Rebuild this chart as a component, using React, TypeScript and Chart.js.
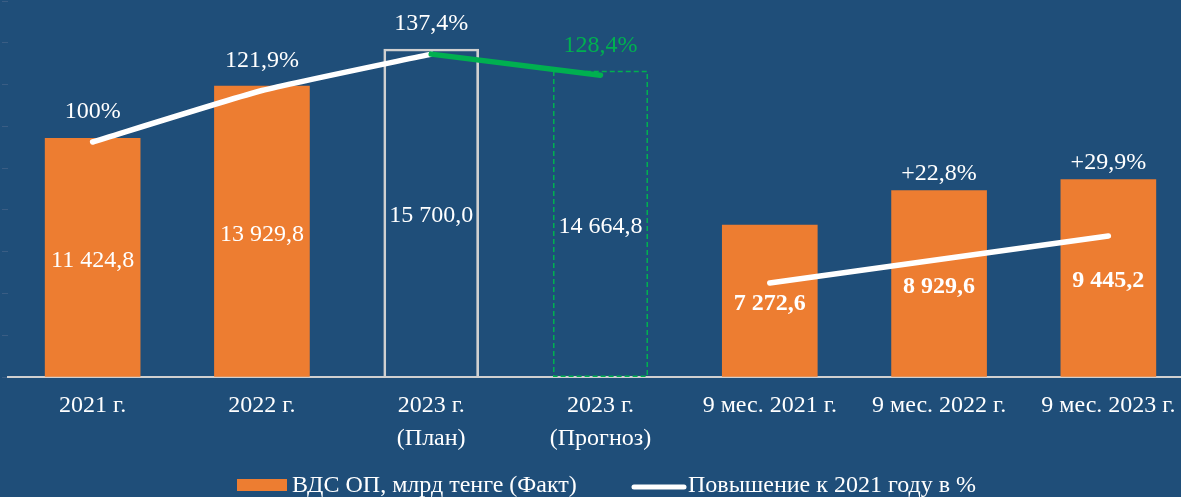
import { useEffect, useRef } from "react";
import { Chart, registerables } from "chart.js";

Chart.register(...registerables);

// ---- data ----
const categories: string[][] = [
  ["2021 г."],
  ["2022 г."],
  ["2023 г.", "(План)"],
  ["2023 г.", "(Прогноз)"],
  ["9 мес. 2021 г."],
  ["9 мес. 2022 г."],
  ["9 мес. 2023 г."],
];
const factValues = [11424.8, 13929.8, null, null, 7272.6, 8929.6, 9445.2];
const planValues = [null, null, 15700.0, null, null, null, null];
const forecastValues = [null, null, null, 14664.8, null, null, null];
const growthYearly = [100, 121.9, 137.4, null, null, null, null];
const growthForecast = [null, null, 137.4, 128.4, null, null, null];
const growthNineMonths = [null, null, null, null, 40, 50, 60];
const nineMonthGrowthLabels = [null, null, null, null, null, "+22,8%", "+29,9%"];
const boldValueIndexes = [4, 5, 6];

const legendBarLabel = "ВДС ОП, млрд тенге (Факт)";
const legendLineLabel = "Повышение к 2021 году в %";

const Y_MIN = 0;
const Y_MAX = 18000;
const Y_STEP = 2000;
const Y2_MIN = 0;
const Y2_MAX = 160;

// ---- styles ----
const BG = "#1F4E79";
const ORANGE = "#ED7D31";
const GREEN = "#00B050";
const WHITE = "#FFFFFF";
const PLAN_BORDER = "#D0D0D0";
const FONT = "'Liberation Serif', 'Times New Roman', serif";
const FONT_SIZE = 24;

// dataset indexes
const DS_FACT = 3;
const DS_PLAN = 4;
const DS_FORECAST = 5;

function fmtValue(v: number): string {
  const [ip, dp] = v.toFixed(1).split(".");
  const withSpaces = ip.replace(/\B(?=(\d{3})+(?!\d))/g, " ");
  return withSpaces + "," + dp;
}
function fmtPct(v: number): string {
  if (Number.isInteger(v)) return v + "%";
  return v.toFixed(1).replace(".", ",") + "%";
}

const bgPlugin = {
  id: "bgFill",
  beforeDraw(chart: any) {
    const { ctx, width, height } = chart;
    ctx.save();
    ctx.fillStyle = BG;
    ctx.fillRect(0, 0, width, height);
    ctx.restore();
  },
};

const labelsPlugin = {
  id: "customLabels",
  afterDatasetsDraw(chart: any) {
    const ctx = chart.ctx;
    ctx.save();
    ctx.textAlign = "center";
    ctx.textBaseline = "middle";

    // dashed forecast bar outline
    const fMeta = chart.getDatasetMeta(DS_FORECAST);
    fMeta.data.forEach((el: any, i: number) => {
      if (forecastValues[i] == null) return;
      const { x, y, base, width } = el.getProps(["x", "y", "base", "width"], true);
      ctx.save();
      ctx.strokeStyle = GREEN;
      ctx.lineWidth = 1.5;
      ctx.setLineDash([5, 3]);
      ctx.strokeRect(x - width / 2 + 0.75, y + 0.75, width - 1.5, base - y - 1);
      ctx.restore();
    });

    // bar value labels
    [DS_FACT, DS_PLAN, DS_FORECAST].forEach((di) => {
      const meta = chart.getDatasetMeta(di);
      const data = chart.data.datasets[di].data;
      meta.data.forEach((el: any, i: number) => {
        const v = data[i];
        if (v == null) return;
        const { x, y, base } = el.getProps(["x", "y", "base"], true);
        const bold = boldValueIndexes.includes(i);
        ctx.font = `${bold ? "bold " : ""}${FONT_SIZE}px ${FONT}`;
        ctx.fillStyle = WHITE;
        ctx.fillText(fmtValue(v), x, (y + base) / 2 + 3);
      });
    });

    // growth labels above the yearly line
    ctx.font = `${FONT_SIZE}px ${FONT}`;
    const yMeta = chart.getDatasetMeta(1);
    yMeta.data.forEach((el: any, i: number) => {
      const v = growthYearly[i];
      if (v == null) return;
      ctx.fillStyle = WHITE;
      ctx.fillText(fmtPct(v), el.x, el.y - 30);
    });
    const gMeta = chart.getDatasetMeta(0);
    gMeta.data.forEach((el: any, i: number) => {
      const v = growthForecast[i];
      if (v == null || growthYearly[i] != null) return;
      ctx.fillStyle = GREEN;
      ctx.fillText(fmtPct(v), el.x, el.y - 30);
    });

    // 9-month growth labels above the bars
    const bMeta = chart.getDatasetMeta(DS_FACT);
    bMeta.data.forEach((el: any, i: number) => {
      const t = nineMonthGrowthLabels[i];
      if (!t) return;
      const { x, y } = el.getProps(["x", "y"], true);
      ctx.fillStyle = WHITE;
      ctx.fillText(t, x, y - 17);
    });

    ctx.restore();
  },
  afterDraw(chart: any) {
    // legend
    const ctx = chart.ctx;
    ctx.save();
    ctx.font = `${FONT_SIZE}px ${FONT}`;
    ctx.textBaseline = "middle";
    ctx.textAlign = "left";
    ctx.fillStyle = ORANGE;
    ctx.fillRect(237, 479, 50, 12);
    ctx.fillStyle = WHITE;
    ctx.fillText(legendBarLabel, 292, 486);
    ctx.strokeStyle = WHITE;
    ctx.lineWidth = 5;
    ctx.lineCap = "round";
    ctx.beginPath();
    ctx.moveTo(634, 487);
    ctx.lineTo(684, 487);
    ctx.stroke();
    ctx.fillText(legendLineLabel, 688, 486);
    ctx.restore();
  },
};

export default function App() {
  const ref = useRef<HTMLCanvasElement | null>(null);

  useEffect(() => {
    if (!ref.current) return;
    const chart = new Chart(ref.current, {
      type: "bar",
      data: {
        labels: categories,
        datasets: [
          {
            type: "line",
            label: "Прогноз",
            data: growthForecast,
            yAxisID: "y2",
            borderColor: GREEN,
            borderWidth: 5.5,
            borderCapStyle: "round",
            pointRadius: 0,
            pointHoverRadius: 0,
            spanGaps: false,
            order: 0,
          } as any,
          {
            type: "line",
            label: legendLineLabel,
            data: growthYearly,
            yAxisID: "y2",
            borderColor: WHITE,
            borderWidth: 5.5,
            borderCapStyle: "round",
            borderJoinStyle: "round",
            tension: 0.15,
            pointRadius: 0,
            pointHoverRadius: 0,
            spanGaps: false,
            order: 1,
          } as any,
          {
            type: "line",
            label: "9 мес.",
            data: growthNineMonths,
            yAxisID: "y2",
            borderColor: WHITE,
            borderWidth: 5.5,
            borderCapStyle: "round",
            pointRadius: 0,
            pointHoverRadius: 0,
            spanGaps: false,
            order: 2,
          } as any,
          {
            type: "bar",
            label: legendBarLabel,
            data: factValues,
            yAxisID: "y",
            backgroundColor: ORANGE,
            borderWidth: 0,
            barThickness: 95,
            grouped: false,
            order: 5,
          } as any,
          {
            type: "bar",
            label: "План",
            data: planValues,
            yAxisID: "y",
            backgroundColor: "rgba(0,0,0,0)",
            borderColor: PLAN_BORDER,
            borderWidth: 2,
            barThickness: 95,
            grouped: false,
            order: 4,
          } as any,
          {
            type: "bar",
            label: "Прогноз",
            data: forecastValues,
            yAxisID: "y",
            backgroundColor: "rgba(0,0,0,0)",
            borderWidth: 0,
            barThickness: 95,
            grouped: false,
            order: 3,
          } as any,
        ],
      },
      options: {
        responsive: false,
        devicePixelRatio: 1,
        animation: false,
        layout: { padding: { left: 0, right: 7, top: 1, bottom: 0 } },
        plugins: {
          legend: { display: false },
          tooltip: { enabled: false },
        },
        scales: {
          x: {
            grid: { display: false, drawTicks: false },
            border: { display: true, color: "#D0D0D0", width: 2 },
            ticks: {
              color: WHITE,
              font: { family: FONT, size: FONT_SIZE, lineHeight: 1.375 },
              padding: 12,
              autoSkip: false,
              maxRotation: 0,
              minRotation: 0,
            },
            afterFit(scale: any) {
              scale.height = 120;
            },
          },
          y: {
            min: Y_MIN,
            max: Y_MAX,
            ticks: { display: false, stepSize: Y_STEP },
            grid: {
              display: true,
              drawOnChartArea: false,
              drawTicks: true,
              tickLength: 6,
              color: "#3A5D84",
              lineWidth: 1,
            },
            border: { display: false },
            afterFit(scale: any) {
              scale.width = 8;
            },
          },
          y2: {
            display: false,
            position: "right",
            min: Y2_MIN,
            max: Y2_MAX,
          },
        },
      } as any,
      plugins: [bgPlugin, labelsPlugin],
    });
    return () => chart.destroy();
  }, []);

  return (
    <div
      style={{
        position: "fixed",
        left: 0,
        top: 0,
        width: 1181,
        height: 497,
        overflow: "hidden",
        background: BG,
      }}
    >
      <canvas
        ref={ref}
        width={1200}
        height={497}
        style={{ display: "block", width: 1200, height: 497 }}
      />
    </div>
  );
}
